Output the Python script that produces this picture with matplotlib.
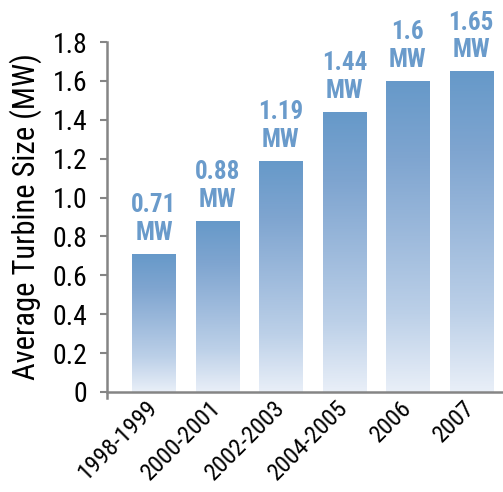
import numpy as np
import matplotlib
matplotlib.use("Agg")
import matplotlib.pyplot as plt
from matplotlib.colors import LinearSegmentedColormap

periods = ["1998-1999", "2000-2001", "2002-2003", "2004-2005", "2006", "2007"]
sizes = [0.71, 0.88, 1.19, 1.44, 1.6, 1.65]
labels = ["0.71", "0.88", "1.19", "1.44", "1.6", "1.65"]
yticks = [0, 0.2, 0.4, 0.6, 0.8, 1.0, 1.2, 1.4, 1.6, 1.8]
ytick_labels = ["0", "0.2", "0.4", "0.6", "0.8", "1.0", "1.2", "1.4", "1.6", "1.8"]

# narrow faces first if present, otherwise an Arial-like sans
plt.rcParams["font.family"] = ["Liberation Sans Narrow", "Roboto Condensed",
                               "Liberation Sans", "DejaVu Sans"]

AXIS_GRAY = "#858585"
LABEL_BLUE = "#6a9bcb"

fig = plt.figure(figsize=(5.03, 4.92), dpi=100)
ax = fig.add_axes([0.2127, 0.2033, 0.7873, 0.7113])

x = np.arange(len(periods))
bars = ax.bar(x, sizes, width=0.68, color="none", edgecolor="none", zorder=2)

# vertical gradient inside each bar: strong blue at top, near white at bottom
cmap = LinearSegmentedColormap.from_list(
    "fade", ["#e9eff8", "#bcd0e8", "#9dbadc", "#7fa5d0", "#6699c9"])
grad = np.linspace(0, 1, 256).reshape(-1, 1)
for b in bars:
    x0, y0 = b.get_x(), b.get_y()
    w, h = b.get_width(), b.get_height()
    im = ax.imshow(grad, cmap=cmap, origin="lower", aspect="auto",
                   extent=[x0, x0 + w, y0, y0 + h], zorder=2)
    im.set_clip_path(b)

for xi, v, lab in zip(x, sizes, labels):
    ax.text(xi, v + 0.045, lab + "\nMW", ha="center", va="bottom",
            fontsize=18, fontweight="bold", color=LABEL_BLUE,
            linespacing=1.2, clip_on=False)

ax.set_xlim(-0.74, 5.5)
ax.set_ylim(0, 1.8)
ax.set_yticks(yticks)
ax.set_yticklabels(ytick_labels, fontsize=20)
ax.set_xticks(x)
ax.set_xticklabels(periods, rotation=45, ha="right", va="center",
                   rotation_mode="anchor", fontsize=17.5)
ax.tick_params(axis="x", length=0, pad=9)
ax.tick_params(axis="y", length=5, width=1.5, color=AXIS_GRAY, pad=9)

ax.set_ylabel("Average Turbine Size (MW)", fontsize=22, labelpad=8)

for side in ["top", "right"]:
    ax.spines[side].set_visible(False)
for side in ["left", "bottom"]:
    ax.spines[side].set_color(AXIS_GRAY)
    ax.spines[side].set_linewidth(1.8)
ax.spines["left"].set_bounds(-0.03, 1.8)

fig.savefig("out.png", dpi=100)
